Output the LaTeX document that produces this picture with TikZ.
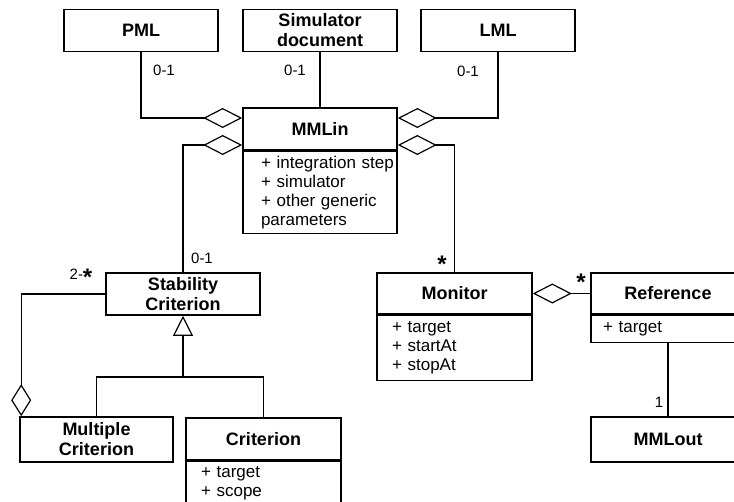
\documentclass[tikz,border=0pt]{standalone}
\usepackage{fontspec}
\setmainfont{Liberation Sans}
\usetikzlibrary{positioning,arrows.meta}

\newcommand{\umlmany}{\raisebox{-6pt}{\fontsize{24}{24}\selectfont\bfseries *}}

\begin{document}
\begin{tikzpicture}[x=1pt, y=-1pt,
  cls/.style={rectangle, draw, line width=1.6pt, minimum width=154pt, minimum height=42pt, align=center, inner sep=2pt, font=\fontsize{18}{20}\selectfont\bfseries},
  attrs/.style={rectangle, draw, line width=1.6pt, minimum width=154pt, text width=124pt, inner xsep=15pt, align=left, font=\fontsize{17}{19}\selectfont},
  conn/.style={line width=1.4pt},
  agg/.style={conn, {Diamond[open, length=39pt, width=20pt, line width=1.2pt]}-},
  aggv/.style={conn, {Diamond[open, length=32pt, width=20pt, line width=1.2pt]}-},
  inherit/.style={conn, {Triangle[open, length=20pt, width=20pt, line width=1.2pt]}-},
  mult/.style={inner sep=0pt, font=\fontsize{15}{17}\selectfont}
]
  \useasboundingbox (0,0) rectangle (734,501);
  \clip (0,0) rectangle (734,501);

  % classes
  \node[cls] (pml) at (141,30.5) {PML};
  \node[cls] (simdoc) at (320,30.5) {Simulator\\document};
  \node[cls] (lml) at (498,30.5) {LML};
  \node[cls] (mmlin) at (320,129) {MMLin};
  \node[attrs, minimum height=82pt, inner xsep=18pt, text width=118pt, below=0pt of mmlin] (mmlinattr) {\mbox{+ integration step}\\+ simulator\\+ other generic\\parameters};
  \node[cls] (stab) at (183,294) {Stability\\Criterion};
  \node[cls, minimum width=155pt, minimum height=41pt] (monitor) at (454.5,293.5) {Monitor};
  \node[attrs, minimum width=155pt, text width=125pt, minimum height=65pt, below=0pt of monitor] (monitorattr) {+ target\\+ startAt\\+ stopAt};
  \node[cls, minimum height=41pt] (reference) at (668,293.5) {Reference};
  \node[attrs, minimum height=27pt, inner xsep=12pt, text width=130pt, below=0pt of reference] (referenceattr) {+ target};
  \node[cls, minimum height=45pt] (mmlout) at (668,439.5) {MMLout};
  \node[cls, minimum width=153pt, minimum height=45pt] (multcrit) at (96.5,439.5) {Multiple\\Criterion};
  \node[cls, minimum width=155pt] (crit) at (263.5,439) {Criterion};
  \node[attrs, minimum width=155pt, text width=125pt, inner ysep=5pt, text depth=40pt, below=0pt of crit] (critattr) {+ target\\+ scope};

  % associations
  \draw[conn] (simdoc) -- (mmlin);
  \draw[agg] ([yshift=11pt]mmlin.west) -| (pml.south);
  \draw[agg] ([yshift=11pt]mmlin.east) -| (lml.south);
  \draw[agg] ([yshift=-16pt]mmlin.west) -| (stab.north);
  \draw[agg] ([yshift=-16pt]mmlin.east) -| (monitor.north);
  \draw[agg] (monitor.east) -- (reference.west);
  \draw[conn] (referenceattr) -- (mmlout);
  \draw[aggv] ([xshift=2pt]multcrit.north west) |- (stab.west);

  % inheritance
  \coordinate (fork) at (183,377);
  \draw[inherit] (stab.south) -- (fork);
  \draw[conn] (multcrit.north) |- (fork) -| (crit.north);

  % multiplicities
  \node[mult] (pmlmult) at (164,70) {0-1};
  \node[mult] (simdocmult) at (295,70) {0-1};
  \node[mult] (lmlmult) at (468,71) {0-1};
  \node[mult] (stabmult) at (202,258) {0-1};
  \node[mult] (multcritmult) at (81,277) {2-\umlmany};
  \node[mult] (monitormult) at (442,264) {\umlmany};
  \node[mult] (referencemult) at (581,282) {\umlmany};
  \node[mult] (mmloutmult) at (659,402) {1};
\end{tikzpicture}
\end{document}
